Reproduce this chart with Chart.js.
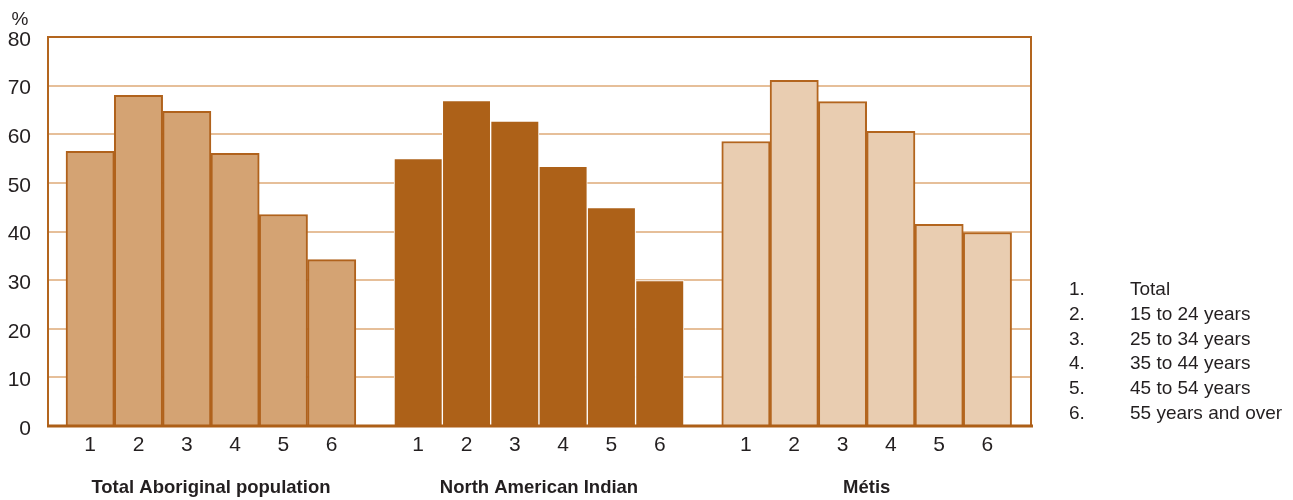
<!DOCTYPE html>
<html>
<head>
<meta charset="utf-8">
<script src="https://cdn.jsdelivr.net/npm/chart.js@4.4.1/dist/chart.umd.min.js"></script>
<style>
  html, body { margin: 0; padding: 0; background: #fff; }
  #wrap { width: 1293px; height: 500px; }
</style>
</head>
<body>
<div id="wrap"><canvas id="employmentChart" width="1293" height="500"></canvas></div>
<script>
// Age groups (legend) and the numbers shown under each bar
var ageGroups = ['Total', '15 to 24 years', '25 to 34 years', '35 to 44 years', '45 to 54 years', '55 years and over'];
var ageTicks = ['1', '2', '3', '4', '5', '6'];
var groupNames = ['Total Aboriginal population', 'North American Indian', 'Métis'];

// Percentages
var totalAboriginal = [56.5, 68.0, 64.7, 56.1, 43.5, 34.2];
var northAmericanIndian = [55.0, 66.9, 62.7, 53.4, 44.9, 29.9];
var metis = [58.5, 71.1, 66.7, 60.6, 41.5, 39.8];

var yTicks = [0, 10, 20, 30, 40, 50, 60, 70, 80];

// layout of the x axis, in bar widths
var groupStart = [0.873, 7.664, 14.448];
var xMax = 20.35;

var FONT = '"Liberation Sans", Arial, sans-serif';
var TEXT = '#231F20';

function toPoints(values, g) {
    return values.map(function (v, i) {
        return { x: groupStart[g] + i, y: v };
    });
}

var barPositions = [];
groupStart.forEach(function (s) {
    ageTicks.forEach(function (t, i) { barPositions.push(s + i); });
});
var groupCenters = groupStart.map(function (s) { return s + (ageTicks.length - 1) / 2; });

// fixed axis sizes so the plot area lands where the original has it
function fixHeight(h) {
    return function (scale) {
        scale.height = h;
        scale.paddingLeft = 0;
        scale.paddingRight = 0;
    };
}

var framePlugin = {
    id: 'frame',
    afterDatasetsDraw: function (chart) {
        var a = chart.chartArea, ctx = chart.ctx;
        ctx.save();
        ctx.strokeStyle = '#B3651E';
        ctx.lineWidth = 2;
        ctx.beginPath();
        ctx.moveTo(a.left, a.bottom);
        ctx.lineTo(a.left, a.top);
        ctx.lineTo(a.right, a.top);
        ctx.lineTo(a.right, a.bottom);
        ctx.stroke();
        var y0 = chart.scales.y.getPixelForValue(0);
        ctx.strokeStyle = '#AD5F17';
        ctx.lineWidth = 3;
        ctx.beginPath();
        ctx.moveTo(a.left - 1, y0);
        ctx.lineTo(a.right + 2, y0);
        ctx.stroke();
        ctx.restore();
    },
    afterDraw: function (chart) {
        var a = chart.chartArea, ctx = chart.ctx;
        ctx.save();
        ctx.fillStyle = TEXT;
        ctx.textBaseline = 'middle';
        // unit label
        ctx.font = '19px ' + FONT;
        ctx.textAlign = 'center';
        ctx.fillText('%', a.left - 28, a.top - 17);
        // legend of the age groups
        ctx.textAlign = 'left';
        ageGroups.forEach(function (name, i) {
            var y = a.bottom - 136 + i * 24.66;
            ctx.fillText(ageTicks[i] + '.', a.right + 38, y);
            ctx.fillText(name, a.right + 99, y);
        });
        ctx.restore();
    }
};

var ctx = document.getElementById('employmentChart').getContext('2d');
new Chart(ctx, {
    type: 'bar',
    data: {
        datasets: [{
            label: groupNames[0],
            data: toPoints(totalAboriginal, 0),
            backgroundColor: '#D4A373',
            borderColor: '#B0621C',
            borderWidth: 2
        }, {
            label: groupNames[1],
            data: toPoints(northAmericanIndian, 1),
            backgroundColor: '#AD6118',
            borderColor: '#FFFFFF',
            borderWidth: 1
        }, {
            label: groupNames[2],
            data: toPoints(metis, 2),
            backgroundColor: '#E9CDB1',
            borderColor: '#B3651E',
            borderWidth: 2
        }]
    },
    options: {
        responsive: false,
        animation: false,
        grouped: false,
        barPercentage: 1,
        categoryPercentage: 1,
        layout: { padding: { top: 37, right: 262, bottom: 0, left: 7.6 } },
        plugins: {
            legend: { display: false },
            tooltip: { enabled: false }
        },
        scales: {
            x: {
                type: 'linear',
                position: 'bottom',
                offset: false,
                weight: 0,
                min: 0,
                max: xMax,
                grid: { display: false, drawTicks: false, offset: false },
                border: { display: false },
                afterBuildTicks: function (axis) {
                    axis.ticks = barPositions.map(function (v) { return { value: v }; });
                },
                afterFit: fixHeight(30),
                ticks: {
                    autoSkip: false,
                    maxRotation: 0,
                    padding: 7,
                    color: TEXT,
                    font: { family: FONT, size: 21 },
                    callback: function (value, index) { return ageTicks[index % ageTicks.length]; }
                }
            },
            groups: {
                type: 'linear',
                position: 'bottom',
                offset: false,
                weight: 1,
                min: 0,
                max: xMax,
                grid: { display: false, drawTicks: false, offset: false },
                border: { display: false },
                afterBuildTicks: function (axis) {
                    axis.ticks = groupCenters.map(function (v) { return { value: v }; });
                },
                afterFit: fixHeight(44),
                ticks: {
                    autoSkip: false,
                    maxRotation: 0,
                    padding: 21,
                    color: TEXT,
                    font: { family: FONT, size: 18.5, weight: 'bold' },
                    callback: function (value, index) { return groupNames[index]; }
                }
            },
            y: {
                min: 0,
                max: 80,
                afterBuildTicks: function (axis) {
                    axis.ticks = yTicks.map(function (v) { return { value: v }; });
                },
                afterFit: function (scale) {
                    scale.width = 40.4;
                    scale.paddingTop = 0;
                    scale.paddingBottom = 0;
                },
                grid: { color: '#E6BF99', lineWidth: 2, drawTicks: false },
                border: { display: false },
                ticks: {
                    padding: 17,
                    labelOffset: 3,
                    color: TEXT,
                    font: { family: FONT, size: 21 }
                }
            }
        }
    },
    plugins: [framePlugin]
});
</script>
</body>
</html>
